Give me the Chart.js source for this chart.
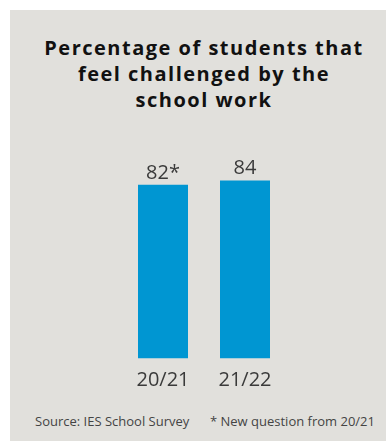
<!DOCTYPE html>
<html>
<head>
<meta charset="utf-8">
<script src="https://cdn.jsdelivr.net/npm/chart.js@4"></script>
<style>
  body { margin: 0; background: #fff; width: 386px; height: 441px; overflow: hidden; font-family: "Open Sans", sans-serif; }
  #panel { position: absolute; left: 10px; top: 10px; width: 376px; height: 431px; background: #e1e0dc; }
  #title { position: absolute; left: 6px; top: 25px; width: 376px; text-align: center; font-weight: 700; font-size: 20px; line-height: 26px; letter-spacing: 1.5px; color: #111; }
  #chartBox { position: absolute; left: 0; top: 120px; width: 376px; height: 279px; }
  .note { position: absolute; top: 402px; font-size: 13px; line-height: 18px; color: #444; white-space: nowrap; }
</style>
</head>
<body>
<div id="panel">
  <div id="title">Percentage of students that<br>feel challenged by the<br>school work</div>
  <div id="chartBox"><canvas id="chart" width="376" height="279"></canvas></div>
  <div class="note" style="left:25px">Source: IES School Survey</div>
  <div class="note" style="right:11px">* New question from 20/21</div>
</div>
<script>
    // chart data
    const years = ["20/21", "21/22"];
    const values = [82, 84];
    const valueNotes = ["*", ""];

    // ✅ Draw the numbers above the bars
    const valueLabels = {
        id: "valueLabels",
        afterDatasetsDraw(chart) {
            let ctx = chart.ctx;
            let meta = chart.getDatasetMeta(0);
            ctx.save();
            ctx.font = "20px 'Open Sans'";
            ctx.fillStyle = "#3a3a3a";
            ctx.textAlign = "center";
            ctx.textBaseline = "alphabetic";
            meta.data.forEach((bar, i) => {
                ctx.fillText(values[i] + valueNotes[i], bar.x, bar.y - 6);
            });
            ctx.restore();
        }
    };

    let ctx = document.getElementById("chart").getContext("2d");
    new Chart(ctx, {
        type: "bar",
        data: {
            labels: years,
            datasets: [{
                data: values,
                backgroundColor: "#0096d2",
                barPercentage: 50 / 82,
                categoryPercentage: 1
            }]
        },
        options: {
            responsive: false,
            animation: false,
            layout: { padding: { left: 112, right: 100, top: 16.5, bottom: 6.5 } },
            plugins: {
                legend: { display: false },
                tooltip: { enabled: false }
            },
            scales: {
                x: {
                    grid: { display: false, drawTicks: false },
                    border: { display: false },
                    ticks: { color: "#3a3a3a", font: { family: "Open Sans", size: 20 }, padding: 10 }
                },
                y: { display: false, min: 0, max: 100 }
            }
        },
        plugins: [valueLabels]
    });
</script>
</body>
</html>
